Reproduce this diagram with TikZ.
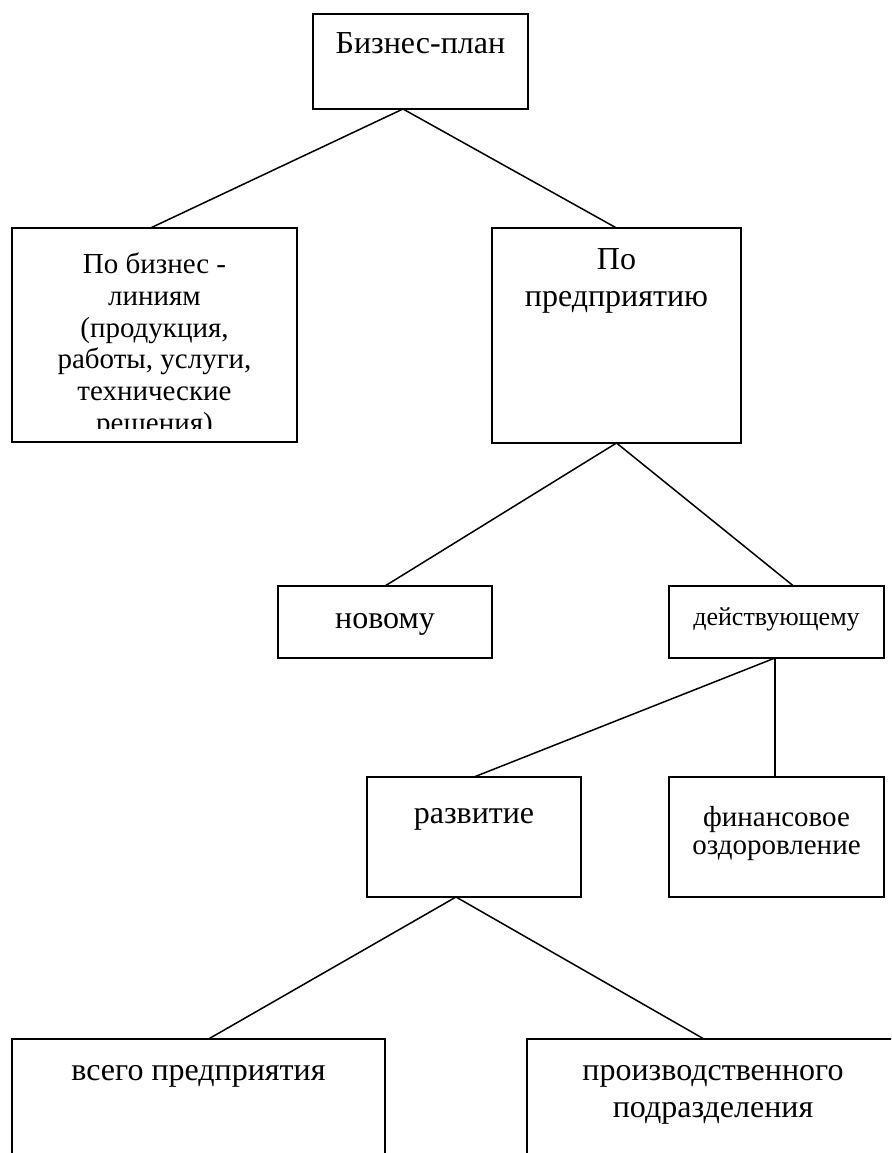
\documentclass[tikz,border=0pt]{standalone}
\usepackage{fontspec}
\setmainfont{Liberation Serif}
\tikzset{
  box/.style={draw, line width=1.5pt, inner sep=0pt, outer sep=0pt, anchor=north west},
  conn/.style={line width=1.5pt},
  lbl/.style={anchor=base, inner sep=0pt, font=\fontsize{32}{37}\selectfont},
  lblsmall/.style={anchor=base, inner sep=0pt, font=\fontsize{29}{32}\selectfont},
  lbltiny/.style={anchor=base, inner sep=0pt, font=\fontsize{26}{30}\selectfont},
}
\begin{document}
\begin{tikzpicture}[x=1pt,y=-1pt]
\clip (0,0) rectangle (891,1153);
\fill[white] (0,0) rectangle (891,1153);
% boxes
\node[box, minimum width=215pt, minimum height=95pt]  (plan)  at (313,14) {};
\node[box, minimum width=285pt, minimum height=214pt] (lines) at (12,228) {};
\node[box, minimum width=249pt, minimum height=215pt] (ent)   at (492,228) {};
\node[box, minimum width=214pt, minimum height=72pt]  (new)   at (278,586) {};
\node[box, minimum width=215pt, minimum height=72pt]  (act)   at (669,586) {};
\node[box, minimum width=214pt, minimum height=120pt] (dev)   at (367,777) {};
\node[box, minimum width=215pt, minimum height=120pt] (fin)   at (669,777) {};
\node[box, minimum width=373pt, minimum height=150pt] (whole) at (12,1039) {};
\node[box, minimum width=372pt, minimum height=150pt] (prod)  at (527,1039) {};
% texts
\node[lbl] (tplan) at (420.5,54) {Бизнес-план};
\begin{scope}
  \clip (lines.north west) rectangle ([yshift=14pt]lines.south east);
  \node[lblsmall] (tl1) at (154.5,273) {По бизнес -};
  \node[lblsmall] (tl2) at (154.5,305) {линиям};
  \node[lblsmall] (tl3) at (154.5,337) {(продукция,};
  \node[lblsmall] (tl4) at (154.5,368.5) {работы, услуги,};
  \node[lblsmall] (tl5) at (154.5,400) {технические};
  \node[lblsmall] (tl6) at (154.5,432) {решения)};
\end{scope}
\node[lbl] (te1) at (616.5,269) {По};
\node[lbl] (te2) at (616.5,306) {предприятию};
\node[lbl] (tnew) at (385,628) {новому};
\node[lbltiny] (tact) at (776.5,625) {действующему};
\node[lbl] (tdev) at (474,823) {развитие};
\node[lblsmall] (tf1) at (776.5,826) {финансовое};
\node[lblsmall] (tf2) at (776.5,854) {оздоровление};
\node[lbl] (tw) at (198.5,1080) {всего предприятия};
\node[lbl] (tp1) at (713,1080) {производственного};
\node[lbl] (tp2) at (713,1117) {подразделения};
% connectors
\draw[conn] ([xshift=-17.5pt]plan.south) -- ([xshift=-4pt]lines.north);
\draw[conn] ([xshift=-17.5pt]plan.south) -- (ent.north);
\draw[conn] (ent.south) -- (new.north);
\draw[conn] (ent.south) -- ([xshift=17pt]act.north);
\draw[conn] ([xshift=-1.5pt]act.south) -- (dev.north);
\draw[conn] ([xshift=-1.5pt]act.south) -- ([xshift=-1.5pt]fin.north);
\draw[conn] ([xshift=-18pt]dev.south) -- ([xshift=10pt]whole.north);
\draw[conn] ([xshift=-18pt]dev.south) -- ([xshift=-9pt]prod.north);
\end{tikzpicture}
\end{document}
